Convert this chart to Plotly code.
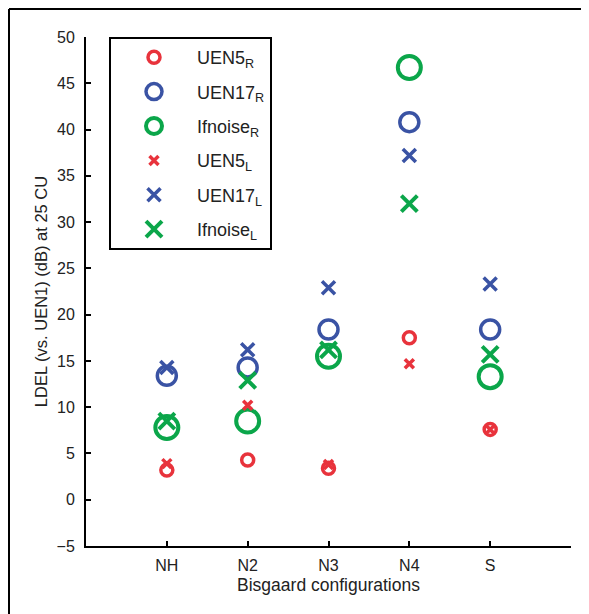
import plotly.graph_objects as go

configs = ["NH", "N2", "N3", "N4", "S"]
xpos = [1, 2, 3, 4, 5]

uen5_r = [3.2, 4.3, 3.4, 17.5, 7.6]
uen17_r = [13.4, 14.3, 18.4, 40.8, 18.4]
ifnoise_r = [7.8, 8.5, 15.5, 46.7, 13.3]
uen5_l = [3.9, 10.2, 3.8, 14.7, 7.6]
uen17_l = [14.3, 16.2, 22.9, 37.2, 23.3]
ifnoise_l = [8.5, 12.9, 16.2, 32.0, 15.7]

RED = "#E8333C"
BLUE = "#3A53A4"
GREEN = "#0BA64A"
FONT = "Liberation Sans, Arial, sans-serif"

series = [
    ("UEN5<sub>R</sub>", uen5_r, RED, "circle-open", 12, 3.5),
    ("UEN17<sub>R</sub>", uen17_r, BLUE, "circle-open", 19, 3.5),
    ("Ifnoise<sub>R</sub>", ifnoise_r, GREEN, "circle-open", 23, 4),
    ("UEN5<sub>L</sub>", uen5_l, RED, "x-thin-open", 9, 3.5),
    ("UEN17<sub>L</sub>", uen17_l, BLUE, "x-thin-open", 13, 3.5),
    ("Ifnoise<sub>L</sub>", ifnoise_l, GREEN, "x-thin-open", 16, 4),
]

fig = go.Figure()
for i, (name, vals, col, sym, size, lw) in enumerate(series):
    fig.add_trace(go.Scatter(
        x=xpos, y=vals, mode="markers", name=name, legendgroup=str(i),
        marker=dict(symbol=sym, size=size, color=col, line=dict(color=col, width=lw)),
    ))

# The page has an 8px body margin, so the figure is sized to fit the window.
W, H = 581, 606
L, R, T, B = 78, 18, 29, 68
pw, ph = W - L - R, H - T - B

fig.update_layout(
    width=W, height=H,
    margin=dict(l=L, r=R, t=T, b=B),
    paper_bgcolor="white", plot_bgcolor="white",
    font=dict(family=FONT, size=16, color="#222"),
    showlegend=True,
    legend=dict(
        x=(101 - L) / pw, y=1.0, xanchor="left", yanchor="top",
        bgcolor="white", bordercolor="black", borderwidth=2,
        font=dict(family=FONT, size=18, color="#222"),
        tracegroupgap=8, itemwidth=76,
    ),
    xaxis=dict(
        range=[0, 6], tickvals=[1, 2, 3, 4, 5, 6], ticktext=configs + [""],
        showline=True, linecolor="black", linewidth=2,
        ticks="inside", ticklen=5, tickwidth=2, tickcolor="black",
        showgrid=False, zeroline=False, ticklabelstandoff=4,
        title=dict(text="Bisgaard configurations", standoff=6, font=dict(size=17.5)),
    ),
    yaxis=dict(
        range=[-5, 50], tickvals=list(range(-5, 51, 5)),
        showline=True, linecolor="black", linewidth=2,
        ticks="inside", ticklen=5, tickwidth=2, tickcolor="black",
        showgrid=False, zeroline=False, ticklabelstandoff=6,
        title=dict(text="LDEL (vs. UEN1) (dB) at 25 CU", standoff=5, font=dict(size=16.5)),
    ),
)

# outer frame lines (left and top) of the figure panel
fx = (1 - L) / pw
fy = 1 + (T - 1) / ph
fig.add_shape(type="line", xref="paper", yref="paper",
              x0=fx, x1=fx, y0=fy, y1=-(B + 2) / ph,
              line=dict(color="black", width=2))
fig.add_shape(type="line", xref="paper", yref="paper",
              x0=fx, x1=1 + (R + 10) / pw, y0=fy, y1=fy,
              line=dict(color="black", width=2))

fig.write_html("out.html")
